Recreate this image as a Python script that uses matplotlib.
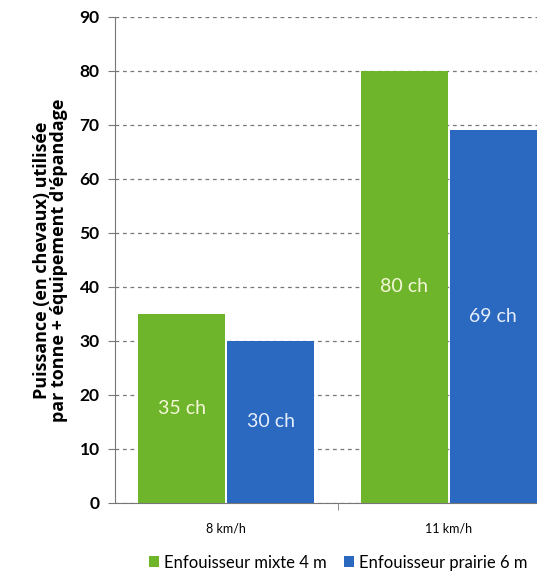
import matplotlib
matplotlib.use("Agg")
from matplotlib import pyplot as plt
import numpy as np

categories = ["8 km/h", "11 km/h"]
series_names = ["Enfouisseur mixte 4 m", "Enfouisseur prairie 6 m"]
mixte_values = [35, 80]
prairie_values = [30, 69]
yticks = [0, 10, 20, 30, 40, 50, 60, 70, 80, 90]

green = "#6fb52c"
blue = "#2b68c0"

plt.rcParams["font.family"] = ["Lato", "DejaVu Sans"]

fig = plt.figure(figsize=(5.37, 5.80), dpi=100)
# axes run past the right edge, like the cropped original
ax = fig.add_axes([0.214, 0.133, 0.829, 0.838])

x = np.arange(len(categories))
w = 0.39
b1 = ax.bar(x - 0.2, mixte_values, w, color=green, label=series_names[0], zorder=2)
b2 = ax.bar(x + 0.2, prairie_values, w, color=blue, label=series_names[1], zorder=2)

for bars, vals, tc in [(b1, mixte_values, "#f4f7d8"), (b2, prairie_values, "#e6eefa")]:
    for r, v in zip(bars, vals):
        ax.text(r.get_x() + r.get_width() / 2, v / 2, f"{v} ch",
                ha="center", va="center", color=tc, fontsize=14)

ax.set_xlim(-0.5, 1.5)
ax.set_ylim(0, 90)
ax.set_yticks(yticks)
ax.set_yticklabels([str(t) for t in yticks], fontweight="bold", fontsize=12.5)
ax.yaxis.grid(True, linestyle=(0, (3, 3)), color="#777777", linewidth=0.9, zorder=1)
ax.set_axisbelow(True)

ax.set_xticks(x)
ax.set_xticklabels(categories, fontsize=9)
ax.tick_params(axis="x", length=0, pad=14)
ax.set_xticks([0.5], minor=True)
ax.tick_params(axis="x", which="minor", length=5, color="#777777")
ax.tick_params(axis="y", length=5, color="#777777", pad=6)

for s in ["top", "right"]:
    ax.spines[s].set_visible(False)
for s in ["left", "bottom"]:
    ax.spines[s].set_color("#777777")

ax.set_ylabel("Puissance (en chevaux) utilisée\npar tonne + équipement d'épandage",
              family=["Open Sans", "DejaVu Sans"], fontweight="bold", fontsize=13,
              labelpad=8, linespacing=0.95)

fig.legend(handles=[b1, b2], loc="center", bbox_to_anchor=(0.63, 0.03), ncol=2,
           frameon=False, fontsize=12, handlelength=0.6, handleheight=0.6,
           handletextpad=0.3, columnspacing=1.0)

fig.savefig("out.png", dpi=100)
